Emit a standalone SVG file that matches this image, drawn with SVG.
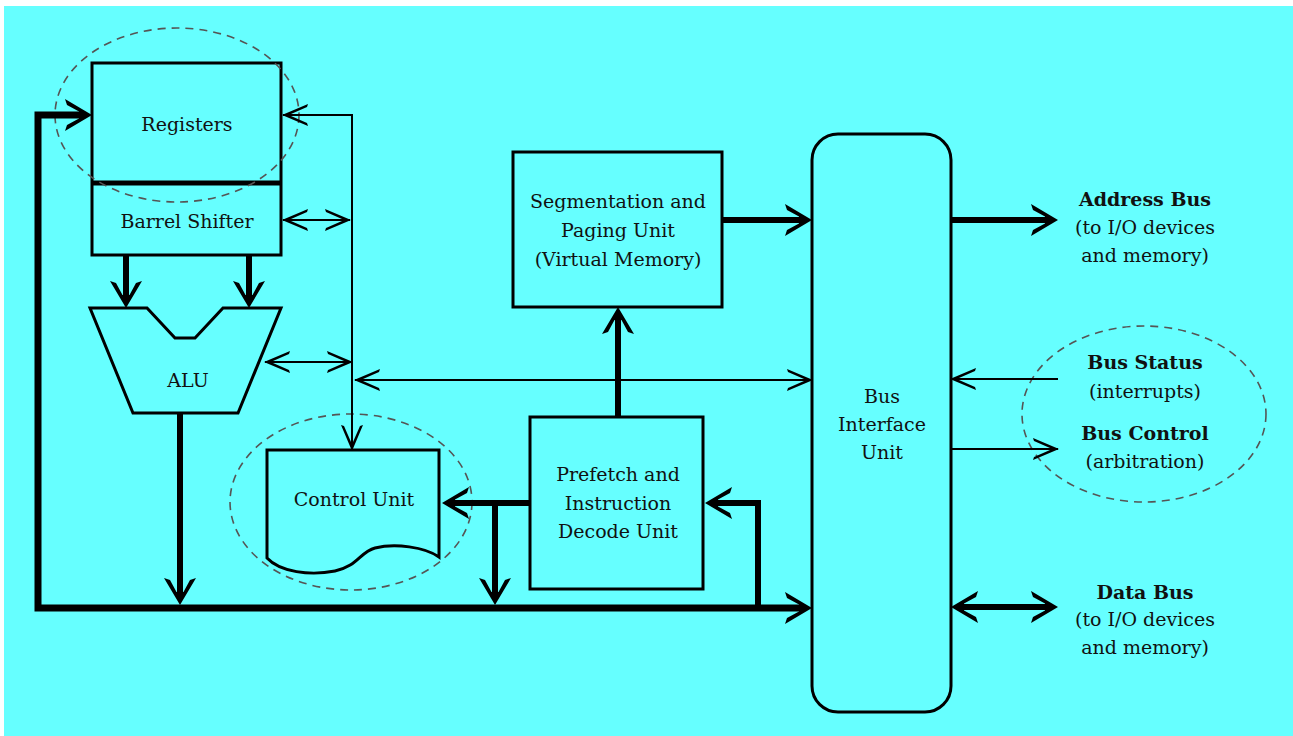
<svg xmlns="http://www.w3.org/2000/svg" width="1293" height="736" viewBox="0 0 1293 736">
<style>
text{font-family:"DejaVu Serif","Liberation Serif",serif;font-size:19px;fill:#111;text-anchor:middle}
.b{font-weight:bold}
.box{fill:none;stroke:#000;stroke-width:3}
.dash{fill:none;stroke:#555;stroke-width:1.6;stroke-dasharray:8 6}
.thick{fill:none;stroke:#000;stroke-width:7;stroke-linejoin:miter}
.med{fill:none;stroke:#000;stroke-width:6}
.thin{fill:none;stroke:#000;stroke-width:2}
</style>
<defs>
<marker id="ah" markerUnits="userSpaceOnUse" orient="auto-start-reverse" refX="-10" refY="0" markerWidth="40" markerHeight="40" overflow="visible">
<path d="M0,0 L-27,-16 L-25,-10 L-13,-3.5 L-13,3.5 L-25,10 L-27,16 Z" fill="#000"/>
</marker>
<marker id="at" markerUnits="userSpaceOnUse" orient="auto-start-reverse" refX="0" refY="0" markerWidth="30" markerHeight="30" overflow="visible">
<path d="M1,0 L-25,-11 L-24,-8 L-8,-1 L-8,1 L-24,8 L-25,11 Z" fill="#000"/>
</marker>
</defs>
<rect x="0" y="0" width="1293" height="736" fill="#fff"/>
<rect x="4" y="6" width="1289" height="730" fill="#66FFFF"/>

<g id="registers">
<rect class="box" x="92" y="63" width="189" height="192"/>
<line x1="92" y1="183" x2="281" y2="183" stroke="#000" stroke-width="5"/>
<text x="187" y="131">Registers</text>
</g>
<g id="barrel-shifter">
<text x="187" y="228">Barrel Shifter</text>
</g>
<ellipse id="registers-group" class="dash" cx="177" cy="115" rx="122" ry="87"/>

<g id="alu">
<polygon class="box" points="90,308 147,308 175,338 195,338 223,308 281,308 238,413 133,413"/>
<text x="188" y="387">ALU</text>
</g>

<g id="control-unit">
<path class="box" d="M267,450 L439,450 L439,557 C425,547 395,543 375,548 C360,552 358,566 335,571 C310,576 280,572 267,558 Z"/>
<text x="354" y="506">Control Unit</text>
</g>
<ellipse id="control-group" class="dash" cx="351" cy="502" rx="121" ry="88"/>

<g id="segmentation">
<rect class="box" x="513" y="152" width="209" height="155"/>
<text x="618" y="208">Segmentation and</text>
<text x="618" y="237">Paging Unit</text>
<text x="618" y="266">(Virtual Memory)</text>
</g>

<g id="prefetch">
<rect class="box" x="530" y="417" width="173" height="172"/>
<text x="618" y="481">Prefetch and</text>
<text x="618" y="510">Instruction</text>
<text x="618" y="538">Decode Unit</text>
</g>

<g id="bus-interface-unit">
<rect class="box" x="812" y="134" width="139" height="578" rx="26" ry="26"/>
<text x="882" y="403">Bus</text>
<text x="882" y="431">Interface</text>
<text x="882" y="459">Unit</text>
</g>

<g id="address-bus">
<text class="b" x="1145" y="206">Address Bus</text>
<text x="1145" y="234">(to I/O devices</text>
<text x="1145" y="262">and memory)</text>
</g>
<g id="bus-status">
<text class="b" x="1145" y="369">Bus Status</text>
<text x="1145" y="398">(interrupts)</text>
</g>
<g id="bus-control">
<text class="b" x="1145" y="440">Bus Control</text>
<text x="1145" y="468">(arbitration)</text>
</g>
<ellipse id="bus-signals-group" class="dash" cx="1144" cy="414" rx="122" ry="88"/>
<g id="data-bus">
<text class="b" x="1145" y="599">Data Bus</text>
<text x="1145" y="626">(to I/O devices</text>
<text x="1145" y="654">and memory)</text>
</g>

<g id="connectors">
<path class="thick" d="M82,115 L38,115 L38,608 L802,608" marker-start="url(#ah)" marker-end="url(#ah)"/>
<path class="med" d="M180,413 L180,595" marker-end="url(#ah)"/>
<path class="med" d="M530,503 L452,503" marker-end="url(#ah)"/>
<path class="med" d="M495,503 L495,595" marker-end="url(#ah)"/>
<path class="med" d="M758,608 L758,503 L715,503" marker-end="url(#ah)"/>
<path class="med" d="M618,417 L618,317" marker-end="url(#ah)"/>
<path class="med" d="M722,220 L802,220" marker-end="url(#ah)"/>
<path class="med" d="M126,255 L126,298" marker-end="url(#ah)"/>
<path class="med" d="M249,255 L249,298" marker-end="url(#ah)"/>
<path class="med" d="M951,220 L1048,220" marker-end="url(#ah)"/>
<path class="med" d="M961,607 L1048,607" marker-start="url(#ah)" marker-end="url(#ah)"/>
<path class="thin" d="M283,115 L352,115 L352,450" marker-start="url(#at)" marker-end="url(#at)"/>
<path class="thin" d="M283,220 L350,220" marker-start="url(#at)" marker-end="url(#at)"/>
<path class="thin" d="M265,362 L352,362" marker-start="url(#at)" marker-end="url(#at)"/>
<path class="thin" d="M355,380 L812,380" marker-start="url(#at)" marker-end="url(#at)"/>
<path class="thin" d="M1058,379 L951,379" marker-end="url(#at)"/>
<path class="thin" d="M951,449 L1058,449" marker-end="url(#at)"/>
</g>
</svg>
